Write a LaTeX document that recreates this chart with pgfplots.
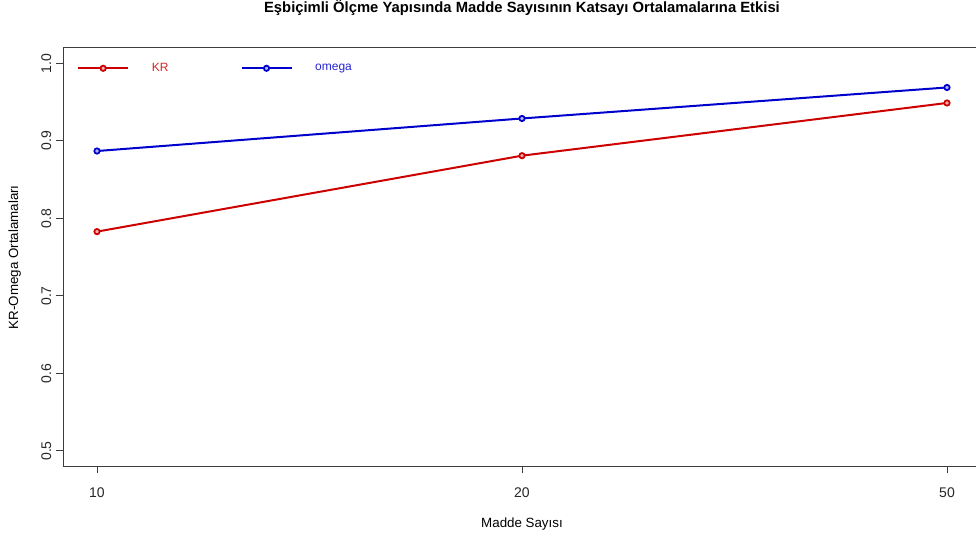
\documentclass[border=0pt]{standalone}
\usepackage{fontspec}
\setmainfont{Liberation Sans}
\usepackage{pgfplots}
\pgfplotsset{compat=1.18}
\definecolor{rthree}{RGB}{205,0,0}
\definecolor{bthree}{RGB}{0,0,205}
\definecolor{axgray}{RGB}{60,60,60}
\begin{document}
\begin{tikzpicture}
\useasboundingbox (0,0) rectangle (732pt,407.25pt);
\clip (0,0) rectangle (732pt,407.25pt);
\begin{axis}[
  at={(47.25pt,57.4pt)}, anchor=south west,
  scale only axis, width=688.5pt, height=313.9pt,
  xmin=0.92, xmax=3.08, ymin=0.48, ymax=1.02,
  xtick={1,2,3}, xticklabels={10,20,50},
  ytick={0.5,0.6,0.7,0.8,0.9,1.0},
  /pgf/number format/assume math mode=true,
  yticklabel style={rotate=90, anchor=south, xshift=0pt, /pgf/number format/.cd, fixed, fixed zerofill, precision=1},
  xticklabel style={yshift=-7.5pt},
  tick align=outside, major tick length=5.25pt,
  xtick pos=bottom, ytick pos=left,
  tick style={axgray, line width=0.75pt},
  axis line style={axgray, line width=0.75pt},
  ticklabel style={font=\fontsize{10.5}{12}\selectfont, text=black!85},
  title={Eşbiçimli Ölçme Yapısında Madde Sayısının Katsayı Ortalamalarına Etkisi},
  title style={at={(0.5,1.0765)}, anchor=center, yshift=0pt, font=\bfseries\fontsize{11.1}{13}\selectfont},
  xlabel={Madde Sayısı},
  xlabel style={at={(0.5,-0.138)}, anchor=center, font=\fontsize{10}{12}\selectfont},
  ylabel={KR-Omega Ortalamaları},
  ylabel style={at={(-0.0525,0.5)}, anchor=center, rotate=0, font=\fontsize{10}{12}\selectfont},
  legend columns=2,
  legend style={draw=none, fill=none, at={(0.0108,0.977)}, anchor=north west,
    font=\fontsize{9}{11}\selectfont,
    /tikz/every even column/.append style={column sep=52pt}},
  legend image code/.code={\draw[mark repeat=2,mark phase=2] plot coordinates {(0pt,0pt)(18.75pt,0pt)(37.5pt,0pt)};},
]
\addplot[rthree, line width=1.5pt, mark=*, mark size=2pt, mark options={fill=rthree!30, line width=1.3pt}]
  coordinates {(1,0.783) (2,0.881) (3,0.949)};
\addlegendentry{\hspace{15pt}\textcolor{rthree!85}{KR}}
\addplot[bthree, line width=1.5pt, mark=*, mark size=2pt, mark options={fill=bthree!30, line width=1.3pt}]
  coordinates {(1,0.887) (2,0.929) (3,0.969)};
\addlegendentry{\hspace{15pt}\textcolor{bthree!85}{omega}}
\end{axis}
\end{tikzpicture}
\end{document}
